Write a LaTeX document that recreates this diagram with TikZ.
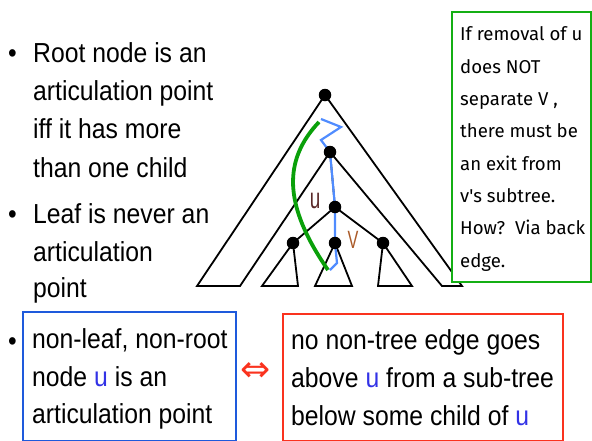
\documentclass[tikz,border=0pt]{standalone}
\usepackage{fontspec}
\setmainfont{Liberation Sans}[FakeStretch=0.9]
\newfontfamily\labelfont{Liberation Sans}[FakeStretch=0.65]
\newfontfamily\boxfont{Fira Sans}
\newfontfamily\symfont{DejaVu Sans}
\definecolor{gcurve}{RGB}{10,160,10}
\definecolor{gbox}{RGB}{20,175,20}
\definecolor{bpath}{RGB}{80,140,255}
\definecolor{bbox}{RGB}{30,90,220}
\definecolor{ublue}{RGB}{50,50,230}
\definecolor{rbox}{RGB}{250,50,30}
\definecolor{ulab}{RGB}{90,40,40}
\definecolor{vlab}{RGB}{170,90,40}
\begin{document}
\begin{tikzpicture}[x=1pt,y=-1pt,
  txt/.style={anchor=base west, inner sep=0pt, font=\fontsize{27.5}{33}\selectfont},
  gtxt/.style={anchor=base west, inner sep=0pt, font=\boxfont\fontsize{18.6}{24}\selectfont},
  dot/.style={circle, fill=black, inner sep=0pt, minimum size=12.5pt},
  tree/.style={line width=1.8pt, line join=miter},
  backedge/.style={gcurve, line width=3.8pt},
  walk/.style={bpath, line width=2.2pt, line join=miter},
  lab/.style={inner sep=0pt, anchor=center, font=\labelfont\fontsize{29}{30}\selectfont}]
\useasboundingbox (0,0) rectangle (592,440);

% tree skeleton
\coordinate (r) at (325,95);
\coordinate (n2c) at (330,152);
\coordinate (uc) at (335,207);
\coordinate (c1c) at (293,243);
\coordinate (vc) at (335,243);
\coordinate (c3c) at (383,243);
\coordinate (ol) at (197,286);
\coordinate (ol2) at (240,286);
\coordinate (or2) at (442,286);
\coordinate (or) at (462,286);
\coordinate (c1l) at (262,286);
\coordinate (c1r) at (298,286);
\coordinate (vl) at (315,286);
\coordinate (vr) at (352,286);
\coordinate (c3l) at (378,286);
\coordinate (c3r) at (412,286);

\draw[tree] (r) -- (ol) -- (ol2) -- (n2c) -- (or2) -- (or) -- cycle;
\draw[tree] (n2c) -- (uc);
\draw[tree] (uc) -- (c1c);
\draw[tree] (uc) -- (vc);
\draw[tree] (uc) -- (c3c);
\draw[tree] (c1c) -- (c1l) -- (c1r) -- cycle;
\draw[tree] (vc) -- (vl) -- (vr) -- cycle;
\draw[tree] (c3c) -- (c3l) -- (c3r) -- cycle;

% back edge and walk
\coordinate (gs) at (319,122);
\coordinate (ge) at (328,270);
\draw[backedge] (gs) .. controls (283,160) and (283,205) .. (ge);
\coordinate (w1) at (321,119);
\coordinate (w2) at (341,127);
\coordinate (w3) at (321,140);
\coordinate (w4) at (337,263);
\coordinate (w5) at (330,270);
\draw[walk] (w1) -- (w2) -- (w3) -- (n2c) -- (uc) -- (vc) -- (w4) -- (w5);

% dots
\node[dot] (root) at (r) {};
\node[dot] (n2) at (n2c) {};
\node[dot] (u) at (uc) {};
\node[dot] (c1) at (c1c) {};
\node[dot] (v) at (vc) {};
\node[dot] (c3) at (c3c) {};
\node[lab, text=ulab] (ulabel) at (315,201) {u};
\node[lab, text=vlab, font=\labelfont\fontsize{25}{28}\selectfont] (vlabel) at (353,240) {V};

% green note
\draw[gbox, line width=2.4pt, fill=white] (452,12) rectangle (591,282);
\node[gtxt] (g1) at (460,40.5) {If removal of u};
\node[gtxt] (g2) at (460,73) {does NOT};
\node[gtxt] (g3) at (460,105) {separate V ,};
\node[gtxt] (g4) at (460,137) {there must be};
\node[gtxt] (g5) at (460,170) {an exit from};
\node[gtxt] (g6) at (460,202) {v's subtree.};
\node[gtxt] (g7) at (460,234) {How?\ \ Via back};
\node[gtxt] (g8) at (460,267) {edge.};

% bullets
\node[txt] (bu1) at (8,62) {•};
\node[txt] (t1) at (33,62) {Root node is an};
\node[txt] (t2) at (33,100) {articulation point};
\node[txt] (t3) at (33,138) {iff it has more};
\node[txt] (t4) at (33,177) {than one child};
\node[txt] (bu2) at (8,223) {•};
\node[txt] (t5) at (33,223) {Leaf is never an};
\node[txt] (t6) at (33,261) {articulation};
\node[txt] (t7) at (33,297) {point};
\node[txt] (bu3) at (8,350) {•};

% bottom boxes
\draw[bbox, line width=2pt] (23,312) rectangle (236,441);
\node[txt] (l1) at (32,348) {non-leaf, non-root};
\node[txt] (l2) at (32,386) {node \textcolor{ublue}{u} is an};
\node[txt] (l3) at (32,423) {articulation point};

\node[inner sep=0pt, text=rbox, font=\symfont\fontsize{36}{40}\selectfont] (iff) at (256,372) {⇔};

\draw[rbox, line width=2pt] (283,314) rectangle (563,441);
\node[txt] (r1) at (291,349) {no non-tree edge goes};
\node[txt] (r2) at (291,387) {above \textcolor{ublue}{u} from a sub-tree};
\node[txt] (r3) at (291,425) {below some child of \textcolor{ublue}{u}};
\end{tikzpicture}
\end{document}
